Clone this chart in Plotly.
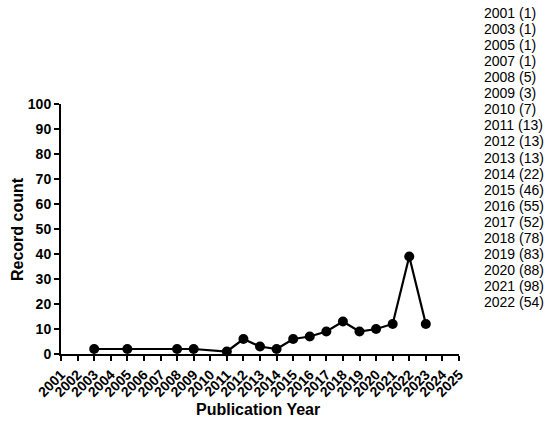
import plotly.graph_objects as go

# Plotted series
years = [2003, 2005, 2008, 2009, 2011, 2012, 2013, 2014, 2015, 2016,
         2017, 2018, 2019, 2020, 2021, 2022, 2023]
counts = [2, 2, 2, 2, 1, 6, 3, 2, 6, 7, 9, 13, 9, 10, 12, 39, 12]

# Axis ticks
x_ticks = list(range(2001, 2026))
y_ticks = list(range(0, 101, 10))

# Side list of publication counts
list_years = [2001, 2003, 2005, 2007, 2008, 2009, 2010, 2011, 2012, 2013,
              2014, 2015, 2016, 2017, 2018, 2019, 2020, 2021, 2022]
list_counts = [1, 1, 1, 1, 5, 3, 7, 13, 13, 13, 22, 46, 55, 52, 78, 83, 88, 98, 54]

W, H = 550, 421
L, R, T, B = 61, 91, 104, 67
plot_h = H - T - B
plot_w = W - L - R

fig = go.Figure()
fig.add_trace(go.Scatter(
    x=years, y=counts, mode="lines+markers",
    line=dict(color="black", width=2.2),
    marker=dict(color="black", size=10, symbol="circle"),
    cliponaxis=False, showlegend=False,
))

font_main = "Liberation Sans, Arial, sans-serif"

annotations = []
for i, (yr, c) in enumerate(zip(list_years, list_counts)):
    ypx = 13 + 16.06 * i
    annotations.append(dict(
        text=f"{yr} ({c})", xref="paper", yref="paper",
        x=(482 - L) / plot_w, y=(H - B - ypx) / plot_h,
        xanchor="left", yanchor="middle", showarrow=False,
        font=dict(family=font_main, size=14, color="black"),
    ))

annotations.append(dict(
    text="<b>Record count</b>", xref="paper", yref="paper",
    x=(17 - L) / plot_w, y=(H - B - 229) / plot_h, textangle=-90,
    xanchor="center", yanchor="middle", showarrow=False,
    font=dict(family=font_main, size=16, color="black"),
))
annotations.append(dict(
    text="<b>Publication Year</b>", xref="paper", yref="paper",
    x=(258 - L) / plot_w, y=(H - B - 409) / plot_h,
    xanchor="center", yanchor="middle", showarrow=False,
    font=dict(family=font_main, size=16, color="black"),
))

fig.update_layout(
    width=W, height=H,
    margin=dict(l=L, r=R, t=T, b=B, pad=0),
    paper_bgcolor="white", plot_bgcolor="white",
    annotations=annotations,
    font=dict(family=font_main, color="black"),
    xaxis=dict(
        range=[2001, 2025], tickmode="array", tickvals=x_ticks,
        ticktext=[f"<b>{t}</b>" for t in x_ticks], tickangle=-45,
        tickfont=dict(size=14, family=font_main, color="black"),
        ticks="outside", ticklen=5, tickwidth=2, tickcolor="black",
        showline=True, linewidth=2, linecolor="black",
        showgrid=False, zeroline=False,
    ),
    yaxis=dict(
        range=[0, 100], tickmode="array", tickvals=y_ticks,
        ticktext=[f"<b>{t}</b>" for t in y_ticks],
        tickfont=dict(size=14, family=font_main, color="black"),
        ticks="outside", ticklen=5, tickwidth=2, tickcolor="black",
        showline=True, linewidth=2, linecolor="black",
        showgrid=False, zeroline=False,
    ),
)

fig.write_html(
    "out.html",
    config={"displayModeBar": False},
    post_script="document.body.style.margin='0';document.body.style.overflow='hidden';",
)
